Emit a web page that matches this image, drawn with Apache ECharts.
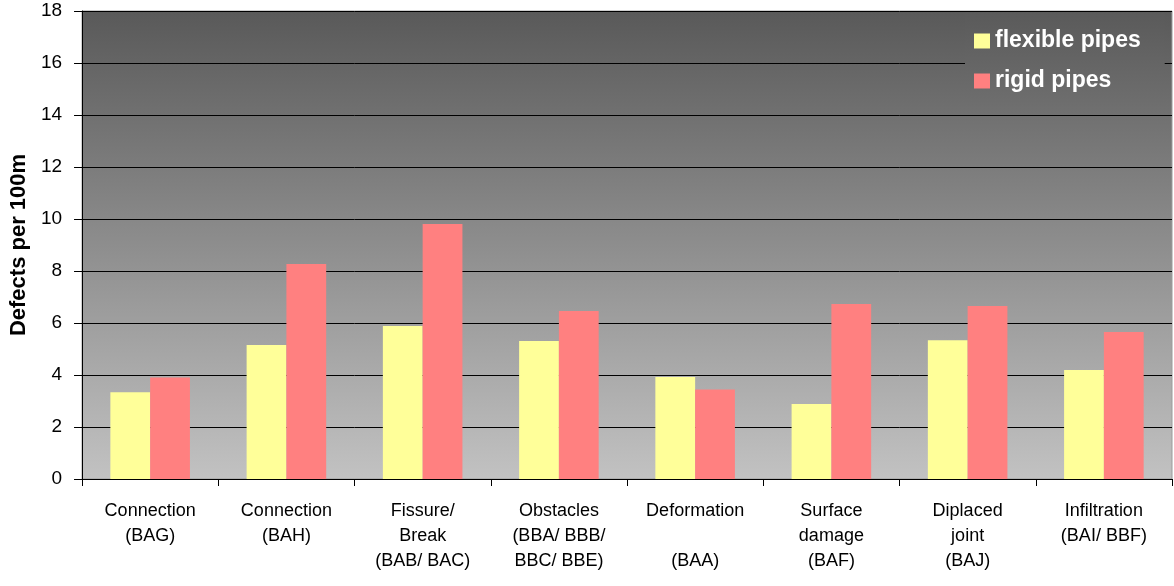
<!DOCTYPE html>
<html>
<head>
<meta charset="utf-8">
<style>
  html, body { margin: 0; padding: 0; background: #ffffff; }
  #chart { width: 1174px; height: 586px; }
</style>
<script src="https://cdn.jsdelivr.net/npm/echarts@6/dist/echarts.min.js"></script>
</head>
<body>
<div id="chart"></div>
<script>
// Defect categories (with inspection codes) along the x axis
const categories = [
  'Connection\n(BAG)',
  'Connection\n(BAH)',
  'Fissure/\nBreak\n(BAB/ BAC)',
  'Obstacles\n(BBA/ BBB/\nBBC/ BBE)',
  'Deformation\n\n(BAA)',
  'Surface\ndamage\n(BAF)',
  'Diplaced\njoint\n(BAJ)',
  'Infiltration\n(BAI/ BBF)'
];

// Defects per 100 m of pipe
const flexiblePipes = [3.34, 5.15, 5.88, 5.31, 3.92, 2.88, 5.34, 4.19];
const rigidPipes    = [3.90, 8.27, 9.81, 6.46, 3.44, 6.73, 6.65, 5.65];

const seriesNames = ['flexible pipes', 'rigid pipes'];
const yAxisTitle = 'Defects per 100m';

const FONT = "'Liberation Sans', Arial, sans-serif";

const chart = echarts.init(document.getElementById('chart'), null, { renderer: 'canvas' });

chart.setOption({
  animation: false,
  backgroundColor: '#ffffff',
  textStyle: { fontFamily: FONT },
  grid: {
    left: 76,
    right: 2,
    top: 11,
    bottom: 107,
    show: true,
    borderColor: '#9a9a9a',
    borderWidth: 1,
    backgroundColor: {
      type: 'linear', x: 0, y: 0, x2: 0, y2: 1,
      colorStops: [
        { offset: 0, color: '#595959' },
        { offset: 1, color: '#c2c2c2' }
      ]
    }
  },
  legend: {
    data: seriesNames,
    orient: 'vertical',
    left: 965,
    top: 12,
    padding: [17, 24, 12, 9],
    // box shaded like the plot area behind it, so only the gridline break shows
    backgroundColor: {
      type: 'linear', x: 0, y: 0, x2: 0, y2: 1,
      colorStops: [
        { offset: 0, color: '#5a5a5a' },
        { offset: 1, color: '#6e6e6e' }
      ]
    },
    icon: 'rect',
    itemWidth: 16,
    itemHeight: 15,
    itemGap: 16,
    itemStyle: { borderWidth: 0 },
    textStyle: {
      color: '#ffffff',
      fontFamily: FONT,
      fontWeight: 'bold',
      fontSize: 23,
      lineHeight: 24
    }
  },
  xAxis: {
    type: 'category',
    data: categories,
    boundaryGap: true,
    axisLine: { show: true, lineStyle: { color: '#000000', width: 1 } },
    axisTick: { show: true, alignWithLabel: false, length: 7, lineStyle: { color: '#000000' } },
    axisLabel: {
      interval: 0,
      color: '#000000',
      fontFamily: FONT,
      fontSize: 18,
      lineHeight: 25,
      margin: 20,
      align: 'center',
      verticalAlign: 'top'
    },
    splitLine: { show: false }
  },
  yAxis: {
    type: 'value',
    min: 0,
    max: 18,
    interval: 2,
    name: yAxisTitle,
    nameLocation: 'middle',
    nameGap: 48,
    nameRotate: 90,
    nameTextStyle: {
      color: '#000000',
      fontFamily: FONT,
      fontWeight: 'bold',
      fontSize: 22
    },
    axisLine: { show: true, lineStyle: { color: '#000000', width: 1 } },
    axisTick: { show: true, length: 8, inside: false, lineStyle: { color: '#000000' } },
    axisLabel: {
      color: '#000000',
      fontFamily: FONT,
      fontSize: 19,
      margin: 20
    },
    splitLine: { show: true, lineStyle: { color: '#000000', width: 1 } }
  },
  series: [
    {
      name: seriesNames[0],
      type: 'bar',
      data: flexiblePipes,
      barGap: '0%',
      barCategoryGap: '41.6%',
      itemStyle: { color: '#FFFF99' }
    },
    {
      name: seriesNames[1],
      type: 'bar',
      data: rigidPipes,
      barGap: '0%',
      barCategoryGap: '41.6%',
      itemStyle: { color: '#FF8080' }
    }
  ]
});
</script>
</body>
</html>
